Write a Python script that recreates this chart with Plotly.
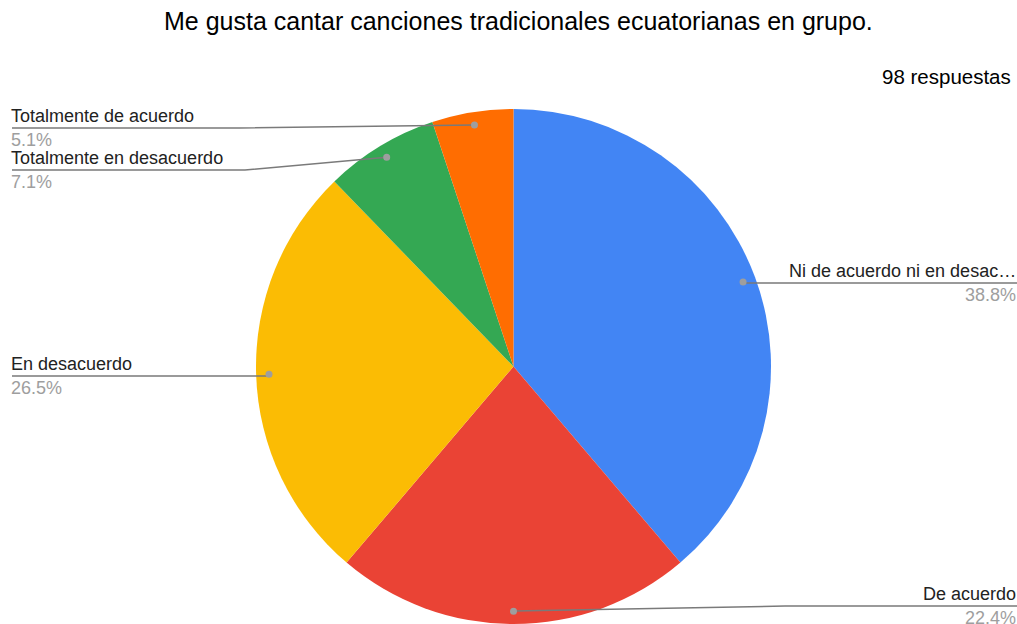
import math
import plotly.graph_objects as go

# ---- data ----
categories = ["Ni de acuerdo ni en desacuerdo", "De acuerdo", "En desacuerdo",
              "Totalmente en desacuerdo", "Totalmente de acuerdo"]
display_labels = ["Ni de acuerdo ni en desac…", "De acuerdo", "En desacuerdo",
                  "Totalmente en desacuerdo", "Totalmente de acuerdo"]
counts = [38, 22, 26, 7, 5]
colors = ["#4285F4", "#EA4335", "#FBBC04", "#34A853", "#FF6D01"]
title_text = "Me gusta cantar canciones tradicionales ecuatorianas en grupo."
subtitle_text = "98 respuestas"

# ---- layout constants ----
W, H = 1017, 624
CX, R = 513.5, 257.5          # pie centre x (px) and radius (px)
CY = H - R                    # pie centre y (px from top)
label_side = ["right", "right", "left", "left", "left"]
label_line_y = [283, 606, 376, 170, 128]
label_kink_x = [None, 785, None, 245, 240]
LEFT_X, RIGHT_X = 10, 1017
FONT = "Arial, Liberation Sans, sans-serif"

total = sum(counts)

fig = go.Figure()
fig.add_trace(go.Pie(
    labels=categories, values=counts, sort=False, direction="clockwise", rotation=0,
    marker=dict(colors=colors, line=dict(width=0)),
    textinfo="none", hoverinfo="label+percent",
    domain=dict(x=[(CX - R) / W, (CX + R) / W], y=[0, 2 * R / H]),
    showlegend=False,
))

shapes, annotations = [], []
cum = 0
for i, c in enumerate(counts):
    mid = (cum + c / 2) / total * 2 * math.pi
    cum += c
    dx = CX + 0.95 * R * math.sin(mid)
    dy = CY - 0.95 * R * math.cos(mid)
    ly = label_line_y[i]
    side = label_side[i]
    end_x = W if side == "right" else 12
    pts = [(dx, dy)]
    if label_kink_x[i] is not None:
        pts.append((label_kink_x[i], ly))
    else:
        pts.append((dx, ly))
    pts.append((end_x, ly))
    path = "M " + " L ".join(f"{x:.1f},{y:.1f}" for x, y in pts)
    shapes.append(dict(type="path", path=path, xref="x", yref="y", layer="above",
                       line=dict(color="#7a7a7a", width=1.5)))
    shapes.append(dict(type="circle", xref="x", yref="y", layer="above",
                       x0=dx - 3.5, x1=dx + 3.5, y0=dy - 3.5, y1=dy + 3.5,
                       fillcolor="#9e9e9e", line=dict(width=0)))
    tx = RIGHT_X if side == "right" else LEFT_X
    xa = "right" if side == "right" else "left"
    annotations.append(dict(x=tx, y=ly - 1, xref="x", yref="y", xanchor=xa, yanchor="bottom",
                            text=display_labels[i], showarrow=False, borderpad=0,
                            font=dict(family=FONT, size=18, color="#222222")))
    annotations.append(dict(x=tx, y=ly + 1, xref="x", yref="y", xanchor=xa, yanchor="top",
                            text=f"{100 * c / total:.1f}%", showarrow=False, borderpad=0,
                            font=dict(family=FONT, size=18, color="#9e9e9e")))

annotations.append(dict(x=518.5, y=21, xref="x", yref="y", xanchor="center", yanchor="middle",
                        text=title_text, showarrow=False,
                        font=dict(family=FONT, size=25, color="#000000")))
annotations.append(dict(x=1013, y=76, xref="x", yref="y", xanchor="right", yanchor="middle",
                        text=subtitle_text, showarrow=False,
                        font=dict(family=FONT, size=20.5, color="#000000")))

fig.update_layout(
    width=W, height=H, margin=dict(l=0, r=0, t=0, b=0),
    paper_bgcolor="white", plot_bgcolor="rgba(0,0,0,0)",
    xaxis=dict(range=[0, W], visible=False, fixedrange=True),
    yaxis=dict(range=[H, 0], visible=False, fixedrange=True),
    shapes=shapes, annotations=annotations, showlegend=False,
)

fig.write_html("out.html", config={"displayModeBar": False},
               post_script="document.body.style.margin='0';document.body.style.overflow='hidden';")
